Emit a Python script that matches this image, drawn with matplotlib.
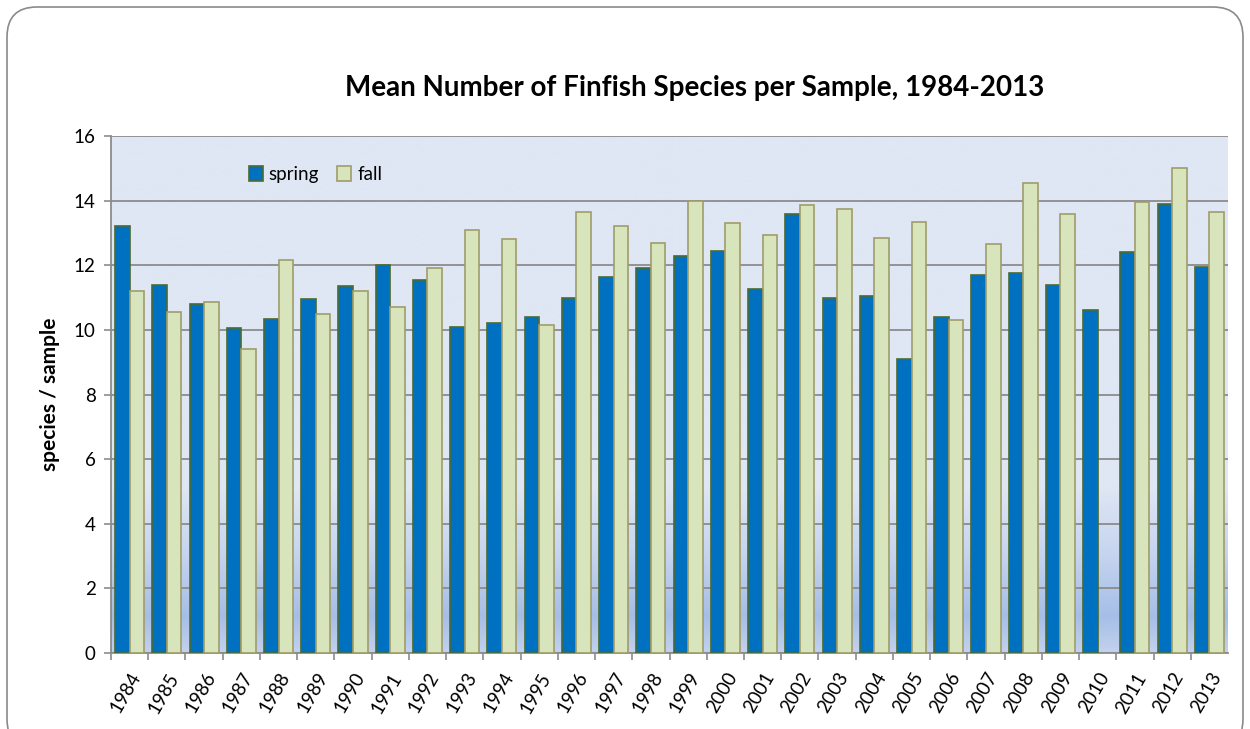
import matplotlib
matplotlib.use("Agg")
import matplotlib.pyplot as plt
from matplotlib.patches import FancyBboxPatch
from matplotlib.colors import LinearSegmentedColormap
import numpy as np

plt.rcParams['font.family'] = ['Lato', 'DejaVu Sans']

years = [str(y) for y in range(1984, 2014)]
spring = [13.2, 11.4, 10.8, 10.05, 10.35, 10.95, 11.35, 12.0, 11.55, 10.1,
          10.2, 10.4, 11.0, 11.65, 11.9, 12.3, 12.45, 11.25, 13.6, 11.0,
          11.05, 9.1, 10.4, 11.7, 11.75, 11.4, 10.6, 12.4, 13.9, 11.95]
fall = [11.2, 10.55, 10.85, 9.4, 12.15, 10.5, 11.2, 10.7, 11.9, 13.1,
        12.8, 10.15, 13.65, 13.2, 12.7, 14.0, 13.3, 12.95, 13.85, 13.75,
        12.85, 13.35, 10.3, 12.65, 14.55, 13.6, np.nan, 13.95, 15.0, 13.65]

fig = plt.figure(figsize=(12.5, 7.29), dpi=100)

# rounded outer frame
frame = FancyBboxPatch((7 / 1250, -20 / 729), 1236 / 1250, 742 / 729,
                       boxstyle="round,pad=0,rounding_size=0.024",
                       transform=fig.transFigure, facecolor='white',
                       edgecolor='#8a8a8a', linewidth=1.2, zorder=-5,
                       mutation_aspect=1250 / 729)
fig.patches.append(frame)

ax = fig.add_axes([111 / 1250, 76 / 729, 1117 / 1250, 517 / 729])
ax.set_facecolor('none')

# background gradient of plot area
cmap = LinearSegmentedColormap.from_list('bg', [
    (0.0, '#c2d2ee'), (0.07, '#a6bee7'), (0.2, '#c8d6f0'),
    (0.32, '#dfe6f4'), (1.0, '#e0e7f4')])
grad = np.linspace(0, 1, 256).reshape(-1, 1)
ax.imshow(grad, cmap=cmap, aspect='auto', origin='lower',
          extent=[0, 1, 0, 1], transform=ax.transAxes, zorder=0)

x = np.arange(len(years))
w = 0.39
ax.bar(x - w / 2, spring, w, color='#0070c0', edgecolor='#4b6a30',
       linewidth=1.2, label='spring', zorder=3)
ax.bar(x + w / 2, fall, w, color='#d8e4bc', edgecolor='#a09c6a',
       linewidth=1.2, label='fall', zorder=3)

ax.set_xlim(-0.5, len(years) - 0.5)
ax.set_ylim(0, 16)
ax.set_yticks(np.arange(0, 17, 2))
ax.yaxis.grid(True, color='#8c8c8c', linewidth=1.3, zorder=1)
ax.set_axisbelow(True)

ax.set_xticks(x)
ax.set_xticklabels(years, rotation=60, ha='right', rotation_mode='anchor',
                   fontsize=13.5)
ax.tick_params(axis='x', which='major', length=0, pad=12)
ax.set_xticks(x - 0.5, minor=True)
ax.tick_params(axis='x', which='minor', length=5, color='#8c8c8c', width=1.2)
ax.tick_params(axis='y', length=5, color='#8c8c8c', width=1.2,
               labelsize=13.5, pad=6)

for s in ['top', 'right']:
    ax.spines[s].set_visible(False)
for s in ['left', 'bottom']:
    ax.spines[s].set_color('#8c8c8c')
    ax.spines[s].set_linewidth(1.3)

ax.set_ylabel('species / sample', fontsize=15, fontweight='bold', labelpad=10)

fig.text(695 / 1250, 1 - 88 / 729,
         'Mean Number of Finfish Species per Sample, 1984-2013',
         ha='center', va='center', fontsize=20, fontweight='bold')

ax.legend(loc='upper left', bbox_to_anchor=(0.108, 0.975), frameon=False,
          fontsize=13.5, ncol=2, handlelength=0.75, handleheight=0.9,
          handletextpad=0.3, columnspacing=1.0)

fig.savefig('out.png', dpi=100)
